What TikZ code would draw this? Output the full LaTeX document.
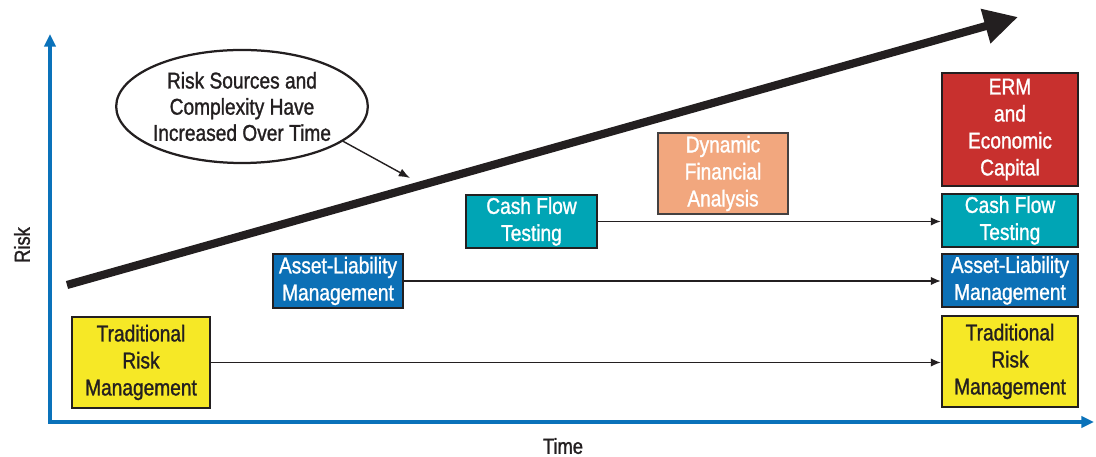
\documentclass[tikz,border=0pt]{standalone}
\usepackage{fontspec}
\setmainfont[FakeStretch=0.84,FakeBold=1.2]{Liberation Sans}
\usepackage{tikz}
\usetikzlibrary{shapes.geometric,arrows.meta}
\definecolor{axisblue}{RGB}{10,114,186}
\definecolor{inkblack}{RGB}{35,31,32}
\definecolor{tradyellow}{RGB}{246,232,38}
\definecolor{almblue}{RGB}{12,112,182}
\definecolor{cftteal}{RGB}{0,165,181}
\definecolor{dfaorange}{RGB}{242,167,126}
\definecolor{ermred}{RGB}{200,48,46}
\tikzstyle{riskbox} = [draw=inkblack, line width=1.8pt, align=center, text=white, inner sep=0pt, font=\fontsize{16.2}{19.2}\selectfont]
\tikzstyle{flow} = [-{Latex[length=7pt,width=6pt]}, color=inkblack, line width=1pt]

\begin{document}
\begin{tikzpicture}[x=0.025cm,y=-0.025cm]
	\useasboundingbox (0,0) rectangle (1096,457);
	% axes
	\draw [-{Triangle[length=9pt,width=8pt]},color=axisblue,line width=2.5pt](50,423.5) -- (50,34);
	\draw [-{Triangle[length=9pt,width=8pt]},color=axisblue,line width=2.5pt](48.7,422) -- (1094,422);
	\node (risklbl) [rotate=90, font=\fontsize{15.5}{18}\selectfont, text=inkblack] at (22,245) {Risk};
	\node (timelbl) [font=\fontsize{15.5}{18}\selectfont, text=inkblack, inner sep=0pt] at (563,446) {Time};
	% growth arrow
	\coordinate (trendlow) at (67,285);
	\coordinate (trendhigh) at (1018,17);
	\draw [-{Triangle[length=24pt,width=24pt]},color=inkblack,line width=5.8pt] (trendlow) -- (trendhigh);
	% note
	\node (note) [ellipse, draw=inkblack, line width=1.6pt, fill=white, minimum width=6.1cm, minimum height=2.825cm, align=center, inner sep=0pt, font=\fontsize{16.2}{18.6}\selectfont, text=inkblack] at (242,106.5) {Risk Sources and\\Complexity Have\\Increased Over Time};
	\coordinate (notetip) at (410,178);
	\draw [-{Latex[length=8pt,width=6pt]},color=inkblack,line width=1pt] (note.-19) -- (notetip);
	% starting points
	\node (tradL) [riskbox, fill=tradyellow, text=inkblack, minimum width=3.45cm, minimum height=2.275cm] at (141,362.5) {Traditional\\Risk\\Management};
	\node (almL) [riskbox, fill=almblue, minimum width=3.25cm, minimum height=1.35cm] at (338,281) {Asset-Liability\\Management};
	\node (cftL) [riskbox, fill=cftteal, minimum width=3.275cm, minimum height=1.325cm] at (531.5,221.5) {Cash Flow\\Testing};
	\node (dfa) [riskbox, fill=dfaorange, draw=inkblack!85, minimum width=3.25cm, minimum height=2.025cm] at (723,173.5) {Dynamic\\Financial\\Analysis};
	% today
	\node (erm) [riskbox, fill=ermred, minimum width=3.4cm, minimum height=2.825cm] at (1010,129.5) {ERM\\and\\Economic\\Capital};
	\node (cftR) [riskbox, fill=cftteal, minimum width=3.4cm, minimum height=1.325cm] at (1010,220.5) {Cash Flow\\Testing};
	\node (almR) [riskbox, fill=almblue, minimum width=3.4cm, minimum height=1.325cm] at (1010,280.5) {Asset-Liability\\Management};
	\node (tradR) [riskbox, fill=tradyellow, text=inkblack, minimum width=3.4cm, minimum height=2.275cm] at (1010,361.5) {Traditional\\Risk\\Management};
	\draw [flow] (tradL.east) -- (tradL.east -| tradR.west);
	\draw [flow] (almL.east) -- (almL.east -| almR.west);
	\draw [flow] (cftL.east) -- (cftL.east -| cftR.west);
\end{tikzpicture}
\end{document}
